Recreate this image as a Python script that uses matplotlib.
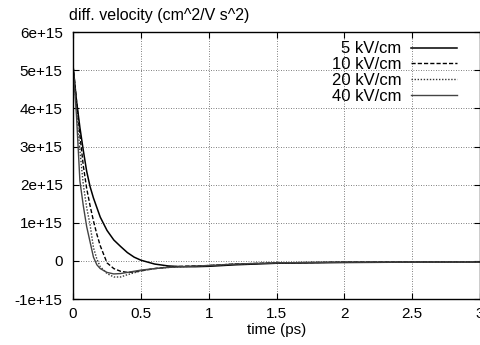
import matplotlib
matplotlib.use("Agg")
import matplotlib.pyplot as plt

plt.rcParams["font.family"] = ["Liberation Sans", "DejaVu Sans"]

# Data (values in units of 1e15)
t_5 = [0, 0.025, 0.05, 0.075, 0.1, 0.125, 0.15, 0.2, 0.25, 0.3, 0.35, 0.4, 0.45, 0.5,
       0.6, 0.7, 0.8, 0.9, 1.0, 1.2, 1.5, 2.0, 2.5, 3.0]
v_5 = [5.1, 4.2, 3.5, 2.9, 2.35, 1.95, 1.65, 1.15, 0.8, 0.55, 0.38, 0.22, 0.1, 0.02,
       -0.08, -0.13, -0.15, -0.15, -0.14, -0.1, -0.06, -0.04, -0.03, -0.03]

t_10 = [0, 0.025, 0.05, 0.075, 0.1, 0.125, 0.15, 0.175, 0.2, 0.25, 0.3, 0.35, 0.4, 0.45,
        0.5, 0.6, 0.7, 0.8, 1.0, 1.2, 1.5, 2.0, 2.5, 3.0]
v_10 = [5.1, 4.2, 3.3, 2.5, 1.9, 1.45, 1.05, 0.7, 0.4, -0.05, -0.2, -0.27, -0.3, -0.29,
        -0.26, -0.2, -0.16, -0.14, -0.12, -0.08, -0.05, -0.03, -0.03, -0.03]

t_20 = [0, 0.025, 0.05, 0.075, 0.1, 0.125, 0.15, 0.175, 0.2, 0.25, 0.3, 0.35, 0.4,
        0.5, 0.6, 0.7, 0.8, 1.0, 1.2, 1.5, 2.0, 2.5, 3.0]
v_20 = [5.1, 4.0, 2.9, 2.0, 1.4, 0.95, 0.35, 0.05, -0.15, -0.33, -0.42, -0.42, -0.36,
        -0.26, -0.2, -0.17, -0.15, -0.12, -0.08, -0.05, -0.03, -0.03, -0.03]

t_40 = [0, 0.025, 0.05, 0.075, 0.1, 0.125, 0.15, 0.175, 0.2, 0.25, 0.3, 0.35, 0.4,
        0.5, 0.6, 0.7, 0.8, 1.0, 1.2, 1.5, 2.0, 2.5, 3.0]
v_40 = [5.1, 3.8, 2.1, 1.45, 0.9, 0.5, 0.1, -0.1, -0.2, -0.3, -0.34, -0.33, -0.3,
        -0.24, -0.2, -0.17, -0.15, -0.12, -0.08, -0.05, -0.03, -0.03, -0.03]

labels = ["5 kV/cm", "10 kV/cm", "20 kV/cm", "40 kV/cm"]
x_ticks = [0, 0.5, 1, 1.5, 2, 2.5, 3]
x_tick_labels = ["0", "0.5", "1", "1.5", "2", "2.5", "3"]
y_ticks = [-1, 0, 1, 2, 3, 4, 5, 6]
y_tick_labels = ["-1e+15", "0", "1e+15", "2e+15", "3e+15", "4e+15", "5e+15", "6e+15"]

fig = plt.figure(figsize=(4.81, 3.45), dpi=100)
ax = fig.add_axes([0.152, 0.133, 0.846, 0.774])

ax.plot(t_5, v_5, color="black", lw=1.1, label=labels[0])
ax.plot(t_10, v_10, color="black", lw=1.0, dashes=(3, 1.5), label=labels[1])
ax.plot(t_20, v_20, color="#333333", lw=1.0, dashes=(1, 1.2), label=labels[2])
ax.plot(t_40, v_40, color="#444444", lw=1.0, label=labels[3])

ax.set_xlim(0, 3)
ax.set_ylim(-1, 6)
ax.set_xticks(x_ticks)
ax.set_xticklabels(x_tick_labels)
ax.set_yticks(y_ticks)
ax.set_yticklabels(y_tick_labels)
ax.tick_params(direction="in", top=True, right=True, length=4, width=0.8,
               labelsize=11)
ax.tick_params(axis="y", pad=7.5)
ax.tick_params(axis="x", pad=6)
ax.grid(True, linestyle=(0, (1, 2)), color="#555555", linewidth=0.6)
for s in ax.spines.values():
    s.set_linewidth(1.0)

ax.set_xlabel("time (ps)", fontsize=11, labelpad=1)
fig.text(69 / 481, 1 - 20 / 345, "diff. velocity (cm^2/V s^2)", fontsize=11.5,
         ha="left", va="baseline")

ax.legend(loc="upper right", bbox_to_anchor=(0.96, 0.99), borderaxespad=0,
          markerfirst=False, frameon=False, fontsize=12, handlelength=2.75,
          handletextpad=0.6, labelspacing=0.05)

fig.savefig("out.png", dpi=100)
